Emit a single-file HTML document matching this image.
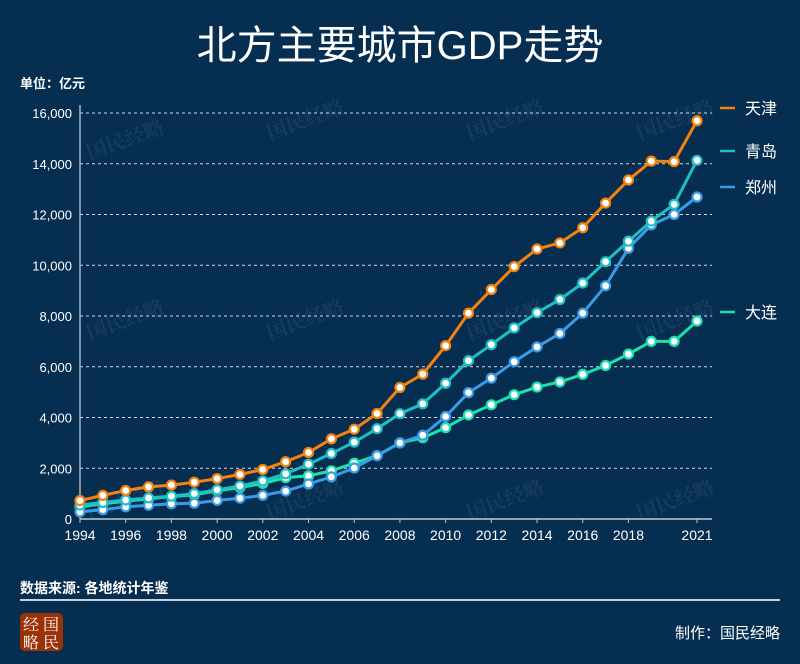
<!DOCTYPE html>
<html><head><meta charset="utf-8"><style>
body{margin:0;background:#062e50;}
#wrap{position:relative;width:800px;height:664px;background:#062e50;overflow:hidden;font-family:"Liberation Sans","Noto Sans CJK SC",sans-serif;color:#fff;}
</style></head><body>
<div id="wrap">
<svg id="chart" width="800" height="664" style="position:absolute;left:0;top:0"></svg>
</div>
<script>
const years=[1994,1995,1996,1997,1998,1999,2000,2001,2002,2003,2004,2005,2006,2007,2008,2009,2010,2011,2012,2013,2014,2015,2016,2017,2018,2019,2020,2021];
const tianjin=[725,932,1122,1265,1336,1450,1592,1757,1950,2257,2621,3158,3539,4158,5182,5710,6830,8112,9043,9946,10640,10880,11477,12450,13362,14104,14084,15695];
const qingdao=[550,650,750,830,900,1000,1150,1300,1500,1780,2160,2580,3030,3560,4150,4540,5350,6240,6870,7530,8130,8650,9300,10140,10950,11740,12400,14136];
const zhengzhou=[280,370,480,540,600,620,730,820,930,1100,1380,1660,2010,2490,3000,3300,4040,4980,5550,6200,6780,7310,8110,9190,10670,11590,12000,12690];
const dalian=[480,600,700,800,880,950,1110,1240,1400,1630,1700,1900,2200,2500,3000,3200,3600,4100,4500,4900,5200,5400,5700,6050,6500,7000,7000,7800];
const yTicks=[0,2000,4000,6000,8000,10000,12000,14000,16000];
const xTicks=[1994,1996,1998,2000,2002,2004,2006,2008,2010,2012,2014,2016,2018,2021];
const seriesNames=["天津","青岛","郑州","大连"];
const NS="http://www.w3.org/2000/svg";
const svg=document.getElementById('chart');
const X0=80,X1=697,Y0=519,Y1=113;
const xs=y=>X0+(y-1994)*(X1-X0)/27;
const ys=v=>Y0-v*(Y0-Y1)/16000;
function mk(t,a,p){const e=document.createElementNS(NS,t);for(const k in a)e.setAttribute(k,a[k]);(p||svg).appendChild(e);return e;}
let e;
e=mk('text',{x:400,y:59,'text-anchor':'middle','font-size':40,fill:'#fff'});e.textContent='北方主要城市GDP走势';


e=mk('text',{x:20,y:88,'font-size':13,'font-weight':'bold',fill:'#fff'});e.textContent='单位：亿元';


[[90,160],[270,140],[470,140],[640,140],[90,340],[270,340],[470,340],[640,340],[90,520],[270,520],[470,520],[640,520]].forEach(p=>{
 e=mk('text',{x:p[0],y:p[1],'font-size':20,fill:'#2a4d6e',transform:`rotate(-20 ${p[0]} ${p[1]})`,'font-family':'Noto Serif CJK SC, serif','font-weight':'bold','opacity':0.45});e.textContent='国民经略';
 
 
});
yTicks.forEach(v=>{
 if(v>0){e=mk('line',{x1:X0,x2:712,y1:ys(v),y2:ys(v),stroke:'#d0d8e0','stroke-dasharray':'3,3','stroke-width':1});
 
 }
 e=mk('text',{x:72,y:ys(v)+5,'text-anchor':'end','font-size':13,fill:'#fff'});e.textContent=v.toLocaleString('en-US');
 
 
});
e=mk('line',{x1:X0,x2:X0,y1:Y1-8,y2:Y0,stroke:'#aab4c0','stroke-width':1.5});


e=mk('line',{x1:X0,x2:712,y1:Y0,y2:Y0,stroke:'#c0c8d0','stroke-width':1.5});


xTicks.forEach(y=>{
 e=mk('line',{x1:xs(y),x2:xs(y),y1:Y0,y2:Y0+4,stroke:'#c0c8d0'});
 
 
 e=mk('text',{x:xs(y),y:Y0+21,'text-anchor':'middle','font-size':14,fill:'#fff'});e.textContent=y;
 
 
});
const data=[tianjin,qingdao,zhengzhou,dalian];
const colors=['#f5820f','#1fbfc6','#3a9be6','#1ddfb0'];
const legY=[108,151,187,312];
[3,2,1,0].forEach(i=>{
 const d=data[i];
 const g=mk('g',{});
 
 
 e=mk('polyline',{points:d.map((v,j)=>xs(years[j])+','+ys(v)).join(' '),fill:'none',stroke:colors[i],'stroke-width':3},g);
 
 
 d.forEach((v,j)=>{
  e=mk('circle',{cx:xs(years[j]),cy:ys(v),r:4.5,fill:'#fff',stroke:colors[i],'stroke-width':2.2},g);
  
  
 });
 e=mk('line',{x1:720,x2:735,y1:legY[i],y2:legY[i],stroke:colors[i],'stroke-width':2.5});
 
 
 e=mk('text',{x:745,y:legY[i]+6,'font-size':16,fill:'#fff'});e.textContent=seriesNames[i];
 
 
});
e=mk('text',{x:20,y:593,'font-size':14,'font-weight':'bold',fill:'#fff'});e.textContent='数据来源: 各地统计年鉴';


e=mk('line',{x1:20,x2:780,y1:600,y2:600,stroke:'#c8d0d8','stroke-width':2});


e=mk('rect',{x:20,y:613,width:43,height:38,rx:5,fill:'#9a3208'});


[['经',23,630],['国',43,630],['略',23,648],['民',43,648]].forEach(t=>{
 e=mk('text',{x:t[1],y:t[2],'font-size':16,fill:'#fff','font-family':'Noto Serif CJK SC, serif'});e.textContent=t[0];
 
 
});
e=mk('text',{x:780,y:638,'text-anchor':'end','font-size':15,fill:'#fff'});e.textContent='制作：国民经略';


</script>
</body></html>
